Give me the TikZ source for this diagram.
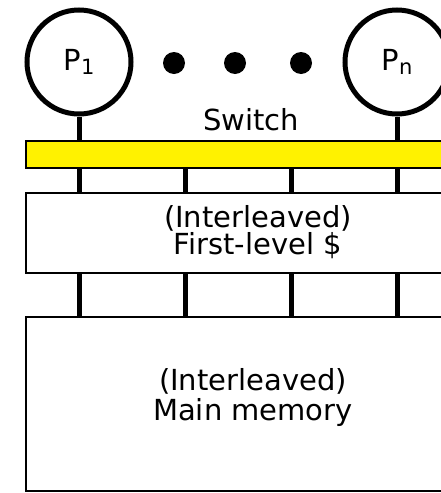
\documentclass[tikz,border=0pt]{standalone}
\usepackage{fontspec}
\setmainfont{DejaVu Sans}
\begin{document}
\begin{tikzpicture}[x=1pt,y=-1pt]
        \tikzstyle{every node}=[font=\fontsize{29}{29}\selectfont]
        \tikzstyle{proc}=[draw,circle,line width=5pt,minimum size=104pt,inner sep=0pt]
        \tikzstyle{dot}=[fill,circle,minimum size=22pt,inner sep=0pt]
        \tikzstyle{box}=[draw,line width=2pt,rectangle,minimum width=454pt,inner sep=0pt]
        \tikzstyle{wire}=[line width=5pt]
        \useasboundingbox (0,0) rectangle (441,493);
        \clip (0,0) rectangle (441,493);
        \node[proc] (p1) at (79,62) {P\raisebox{-0.3ex}{\fontsize{21}{21}\selectfont 1}};
        \node[proc] (pn) at (397,62) {P\raisebox{-0.3ex}{\fontsize{21}{21}\selectfont n}};
        \node[dot] (d1) at (174,63) {};
        \node[dot] (d2) at (235,63) {};
        \node[dot] (d3) at (301,63) {};
        \node[anchor=base] (swlabel) at (251,130) {Switch};
        \node[box,fill=yellow,minimum height=27pt] (sw) at (253,154.5) {};
        \node[box,minimum height=80pt] (l1) at (253,233) {};
        \node[box,minimum height=174pt] (mem) at (253,404) {};
        \node[align=center,font=\fontsize{29}{25}\selectfont] (l1txt) at (258,232) {(Interleaved)\\First-level \$};
        \node[align=center,font=\fontsize{29}{30}\selectfont] (memtxt) at (253,397) {(Interleaved)\\Main memory};
        \draw[wire] (p1.south) -- (p1.south |- sw.north);
        \draw[wire] (pn.south) -- (pn.south |- sw.north);
        \foreach \x in {79,185,291,397} {
            \draw[wire] (\x,0 |- sw.south) -- (\x,0 |- l1.north);
            \draw[wire] (\x,0 |- l1.south) -- (\x,0 |- mem.north);
        }
    \end{tikzpicture}
\end{document}
